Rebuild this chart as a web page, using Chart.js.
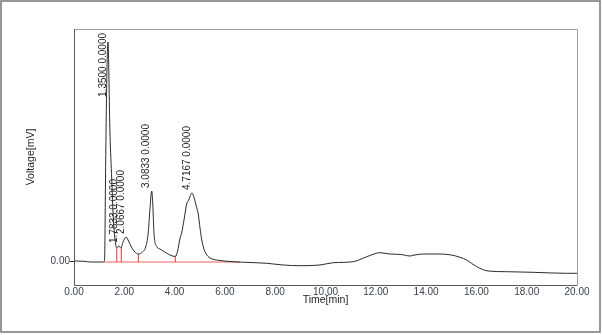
<!DOCTYPE html>
<html>
<head>
<meta charset="utf-8">
<script src="https://cdn.jsdelivr.net/npm/chart.js@4/dist/chart.umd.min.js"></script>
<style>
  html, body { margin: 0; padding: 0; background: #fff; }
  canvas { display: block; }
</style>
</head>
<body>
<canvas id="chromatogram" width="602" height="335"></canvas>
<script>
// signal trace, time in minutes / voltage (arbitrary mV units)
var times = [0.00, 0.40, 0.65, 1.15, 1.20, 1.22, 1.26, 1.31, 1.35, 1.43, 1.50, 1.56, 1.63, 1.70,
    1.78, 1.86, 1.95, 2.07, 2.15, 2.28, 2.42, 2.56, 2.72, 2.85, 2.95, 3.02, 3.09, 3.13, 3.18,
    3.29, 3.42, 3.69, 4.02, 4.12, 4.21, 4.28, 4.38, 4.48, 4.56, 4.69, 4.78, 4.86, 4.94, 5.01,
    5.08, 5.18, 5.28, 5.45, 5.67, 6.33, 7.00, 7.66, 8.32, 8.99, 9.78, 10.31, 11.10, 11.64,
    12.17, 12.56, 13.00, 13.36, 13.48, 13.89, 14.55, 15.00, 15.35, 15.61, 16.01, 16.47,
    17.20, 18.26, 19.59, 20.00];
var voltages = [0, -0.3, -1, -1, -0.5, 5, 100, 190, 219, 128, 82, 44, 22, 13,
    15, 13, 19, 24, 21, 14, 9, 7, 9, 14, 28, 52, 70, 58, 28,
    14.5, 12, 7.7, 4.5, 10, 22, 28, 42, 57, 61, 68, 63, 55, 47, 33,
    21, 11, 6, 2.5, 1, -0.7, -1.5, -2.3, -4, -4.7, -4, -1.7, -0.7, 4.3,
    8.3, 7, 6.5, 5, 5.7, 7, 7, 6, 3.7, 1, -5.7, -10,
    -10.7, -11.3, -12.3, -12.3];

// detected peaks
var peakTimes = [1.35, 1.7833, 2.0667, 3.0833, 4.7167];
var peakHeights = [219, 15, 24, 70, 68];
var peakAreas = [0, 0, 0, 0, 0];

// integration baseline and peak cut marks
var baselineTimes = [1.18, 6.6];
var baselineLevel = -1;
var cutTimes = [1.70, 1.88, 2.56, 4.03];
var cutHeights = [12.7, 13, 7, 4.5];

var xTicks = [0, 2, 4, 6, 8, 10, 12, 14, 16, 18, 20];
var yTicks = [0];

var trace = times.map(function(t, i) { return { x: t, y: voltages[i] }; });

var datasets = [{
    data: trace,
    borderColor: '#2b2b2b',
    borderWidth: 1,
    pointRadius: 0,
    cubicInterpolationMode: 'monotone'
}, {
    data: baselineTimes.map(function(t) { return { x: t, y: baselineLevel }; }),
    borderColor: 'rgba(235, 40, 40, 0.75)',
    borderWidth: 1,
    pointRadius: 0
}];
cutTimes.forEach(function(t, i) {
    datasets.push({
        data: [{ x: t, y: baselineLevel }, { x: t, y: cutHeights[i] }],
        borderColor: 'rgba(235, 30, 30, 0.9)',
        borderWidth: 1,
        pointRadius: 0
    });
});

var framePlugin = {
    id: 'frame',
    beforeDraw: function(chart) {
        var ctx = chart.ctx;
        ctx.save();
        ctx.fillStyle = '#fff';
        ctx.fillRect(0, 0, chart.width, chart.height);
        ctx.strokeStyle = '#767676';
        ctx.lineWidth = 1.5;
        ctx.strokeRect(1, 1, 599, 331);
        ctx.restore();
    },
    afterDraw: function(chart) {
        var a = chart.chartArea, ctx = chart.ctx;
        ctx.save();
        ctx.lineWidth = 1;
        ctx.strokeStyle = '#a0a0a0';
        ctx.beginPath();
        ctx.moveTo(a.left, a.top + 0.5);
        ctx.lineTo(a.right + 0.5, a.top + 0.5);
        ctx.lineTo(a.right + 0.5, a.bottom);
        ctx.stroke();
        ctx.strokeStyle = '#5a5a5a';
        ctx.beginPath();
        ctx.moveTo(a.left + 0.5, a.top);
        ctx.lineTo(a.left + 0.5, a.bottom + 0.5);
        ctx.lineTo(a.right + 0.5, a.bottom + 0.5);
        ctx.stroke();
        ctx.restore();
    }
};

var peakLabelPlugin = {
    id: 'peakLabels',
    afterDatasetsDraw: function(chart) {
        var ctx = chart.ctx, xs = chart.scales.x, ys = chart.scales.y;
        ctx.save();
        ctx.font = '10px "Liberation Sans", Arial, sans-serif';
        ctx.fillStyle = '#1e1e1e';
        ctx.textAlign = 'left';
        ctx.textBaseline = 'middle';
        peakTimes.forEach(function(t, i) {
            var text = t.toFixed(4) + ' ' + peakAreas[i].toFixed(4);
            var w = ctx.measureText(text).width;
            var px = xs.getPixelForValue(t) - 5;
            var py = ys.getPixelForValue(peakHeights[i]) - 3;
            py = Math.max(py, chart.chartArea.top + 4 + w);
            ctx.save();
            ctx.translate(px, py);
            ctx.rotate(-Math.PI / 2);
            ctx.fillText(text, 0, 0);
            ctx.restore();
        });
        ctx.restore();
    }
};

var chart = new Chart(document.getElementById('chromatogram').getContext('2d'), {
    type: 'line',
    data: { datasets: datasets },
    options: {
        responsive: false,
        animation: false,
        devicePixelRatio: 1,
        layout: { padding: { top: 29, right: 25, bottom: 0, left: 0 } },
        plugins: { legend: { display: false }, tooltip: { enabled: false } },
        scales: {
            x: {
                type: 'linear',
                min: 0,
                max: 20,
                afterBuildTicks: function(scale) {
                    scale.ticks = xTicks.map(function(v) { return { value: v }; });
                },
                afterFit: function(scale) { scale.height = 50; },
                grid: { drawOnChartArea: false, drawTicks: false },
                border: { display: false },
                ticks: {
                    padding: 1,
                    color: '#3a3f4a',
                    font: { family: '"Liberation Sans", Arial', size: 10 },
                    maxRotation: 0,
                    autoSkip: false,
                    callback: function(v) { return Number(v).toFixed(2); }
                },
                title: {
                    display: true,
                    text: 'Time[min]',
                    color: '#1e1e1e',
                    font: { family: '"Liberation Sans", Arial', size: 10.5, lineHeight: 1.2 },
                    padding: { top: 0, bottom: 29 }
                }
            },
            y: {
                min: -24,
                max: 232,
                afterBuildTicks: function(scale) {
                    scale.ticks = yTicks.map(function(v) { return { value: v }; });
                },
                afterFit: function(scale) { scale.width = 74; },
                grid: { drawOnChartArea: false, drawTicks: true, tickLength: 4, color: '#333' },
                border: { display: false },
                ticks: {
                    padding: 0,
                    color: '#3a3f4a',
                    font: { family: '"Liberation Sans", Arial', size: 10 },
                    callback: function(v) { return Number(v).toFixed(2); }
                },
                title: {
                    display: true,
                    text: 'Voltage[mV]',
                    color: '#1e1e1e',
                    font: { family: '"Liberation Sans", Arial', size: 10.5, lineHeight: 1.2 },
                    padding: { top: 25, bottom: 0 }
                }
            }
        }
    },
    plugins: [framePlugin, peakLabelPlugin]
});
</script>
</body>
</html>
